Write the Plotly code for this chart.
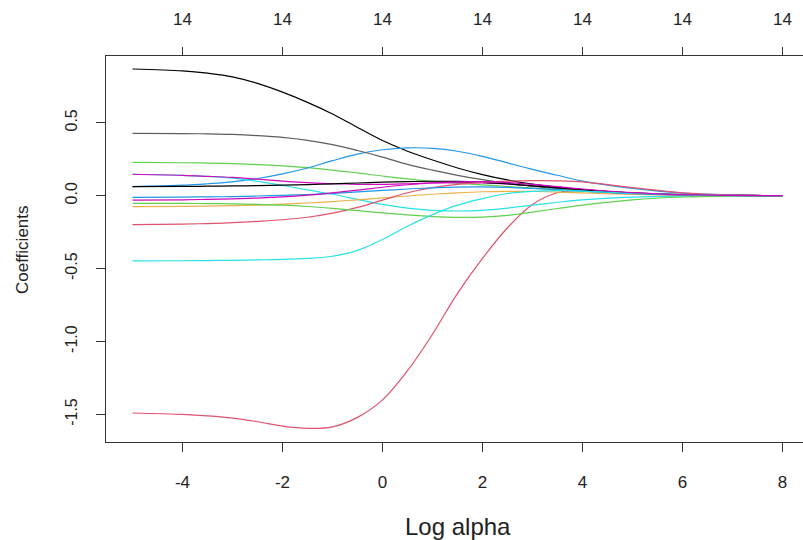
import plotly.graph_objects as go

# Ridge coefficient paths along log(alpha)
log_alpha = [-5, -4, -3.5, -3, -2.5, -2, -1.5, -1, -0.5, 0, 0.5, 1, 1.5, 2, 2.5, 3, 3.5, 4, 5, 6, 7, 8]

coef_black_a = [0.869, 0.856, 0.84, 0.815, 0.77, 0.71, 0.64, 0.56, 0.468, 0.378, 0.305, 0.245, 0.19, 0.145, 0.108, 0.079, 0.057, 0.041, 0.018, 0.007, 0.002, 0.0]
coef_red_a = [-1.49, -1.50, -1.51, -1.525, -1.55, -1.58, -1.595, -1.585, -1.52, -1.40, -1.2, -0.95, -0.67, -0.43, -0.22, -0.06, 0.02, 0.035, 0.018, 0.006, 0.002, 0.0]
coef_green_a = [0.228, 0.226, 0.224, 0.22, 0.213, 0.205, 0.192, 0.176, 0.156, 0.135, 0.115, 0.098, 0.085, 0.074, 0.063, 0.052, 0.041, 0.031, 0.014, 0.005, 0.001, 0.0]
coef_blue_a = [0.062, 0.072, 0.082, 0.095, 0.118, 0.15, 0.19, 0.24, 0.285, 0.315, 0.328, 0.325, 0.305, 0.27, 0.225, 0.18, 0.14, 0.10, 0.05, 0.018, 0.005, 0.0]
coef_cyan_a = [0.147, 0.14, 0.132, 0.12, 0.098, 0.07, 0.04, 0.01, -0.025, -0.06, -0.085, -0.1, -0.105, -0.1, -0.085, -0.065, -0.045, -0.028, -0.01, -0.003, -0.001, 0.0]
coef_magenta_a = [0.147, 0.14, 0.133, 0.125, 0.113, 0.10, 0.09, 0.082, 0.078, 0.078, 0.082, 0.087, 0.09, 0.088, 0.08, 0.068, 0.054, 0.04, 0.018, 0.006, 0.002, 0.0]
coef_yellow = [-0.075, -0.073, -0.071, -0.068, -0.064, -0.058, -0.05, -0.04, -0.028, -0.015, -0.002, 0.01, 0.02, 0.027, 0.03, 0.029, 0.025, 0.02, 0.009, 0.003, 0.001, 0.0]
coef_gray = [0.428, 0.426, 0.424, 0.42, 0.412, 0.4, 0.38, 0.35, 0.31, 0.265, 0.215, 0.175, 0.14, 0.11, 0.085, 0.065, 0.05, 0.037, 0.017, 0.007, 0.002, 0.0]
coef_black_b = [0.062, 0.064, 0.065, 0.067, 0.069, 0.072, 0.076, 0.081, 0.087, 0.093, 0.097, 0.099, 0.098, 0.092, 0.082, 0.068, 0.054, 0.04, 0.019, 0.007, 0.002, 0.0]
coef_red_b = [-0.198, -0.195, -0.191, -0.185, -0.176, -0.165, -0.148, -0.12, -0.08, -0.03, 0.02, 0.055, 0.078, 0.092, 0.1, 0.103, 0.102, 0.095, 0.055, 0.02, 0.005, 0.0]
coef_green_b = [-0.052, -0.053, -0.054, -0.056, -0.06, -0.065, -0.074, -0.087, -0.102, -0.118, -0.132, -0.143, -0.149, -0.147, -0.135, -0.113, -0.088, -0.064, -0.028, -0.009, -0.002, 0.0]
coef_blue_b = [-0.012, -0.01, -0.008, -0.006, -0.002, 0.002, 0.008, 0.016, 0.026, 0.036, 0.046, 0.054, 0.059, 0.06, 0.057, 0.05, 0.041, 0.031, 0.014, 0.005, 0.001, 0.0]
coef_cyan_b = [-0.447, -0.446, -0.445, -0.443, -0.44, -0.437, -0.43, -0.415, -0.375, -0.3, -0.21, -0.13, -0.065, -0.02, 0.015, 0.03, 0.035, 0.032, 0.017, 0.006, 0.002, 0.0]
coef_magenta_b = [-0.03, -0.028, -0.025, -0.022, -0.016, -0.008, 0.004, 0.02, 0.038, 0.058, 0.075, 0.088, 0.095, 0.096, 0.09, 0.078, 0.062, 0.046, 0.021, 0.007, 0.002, 0.0]

paths = [
    (coef_black_a, "#000000"),
    (coef_red_a, "#DF536B"),
    (coef_green_a, "#61D04F"),
    (coef_blue_a, "#2297E6"),
    (coef_cyan_a, "#28E2E5"),
    (coef_magenta_a, "#CD0BBC"),
    (coef_yellow, "#EBB04A"),
    (coef_gray, "#5E5E5E"),
    (coef_black_b, "#000000"),
    (coef_red_b, "#DF536B"),
    (coef_green_b, "#61D04F"),
    (coef_blue_b, "#2297E6"),
    (coef_cyan_b, "#28E2E5"),
    (coef_magenta_b, "#CD0BBC"),
]

# number of nonzero coefficients shown along the top axis
top_ticks = [-4, -2, 0, 2, 4, 6, 8]
top_labels = ["14"] * len(top_ticks)

x_ticks = [-4, -2, 0, 2, 4, 6, 8]
y_ticks = [-1.5, -1.0, -0.5, 0.0, 0.5]

FONT = "Liberation Sans, Arial, sans-serif"
INK = "#222222"
AXIS = "#333333"

fig = go.Figure()
for vals, col in paths:
    fig.add_trace(go.Scatter(
        x=log_alpha, y=vals, mode="lines",
        line=dict(color=col, width=1.2, shape="spline", smoothing=1.0),
        showlegend=False, hoverinfo="skip",
    ))

# invisible trace so the top axis is drawn
fig.add_trace(go.Scatter(x=[top_ticks[0]], y=[0], xaxis="x2", mode="markers",
                         marker=dict(opacity=0), showlegend=False, hoverinfo="skip"))

x_range = [-5.53, 8.41]
fig.update_layout(
    width=803, height=540,
    margin=dict(l=106, r=0, t=56, b=98),
    paper_bgcolor="white", plot_bgcolor="white",
    font=dict(family=FONT, size=16, color=INK),
    xaxis=dict(
        range=x_range, tickvals=x_ticks, ticktext=[str(v) for v in x_ticks],
        showgrid=False, zeroline=False, showline=True, linecolor=AXIS, linewidth=1.2,
        ticks="outside", ticklen=9, tickcolor=AXIS, tickwidth=1.2,
        ticklabelstandoff=15, tickfont=dict(size=17, color=INK),
    ),
    xaxis2=dict(
        range=x_range, overlaying="x", side="top", anchor="y",
        tickvals=top_ticks, ticktext=top_labels,
        showgrid=False, zeroline=False, showline=True, linecolor=AXIS, linewidth=1.2,
        ticks="outside", ticklen=8, tickcolor=AXIS, tickwidth=1.2,
        ticklabelstandoff=15, tickfont=dict(size=17, color=INK),
    ),
    yaxis=dict(
        range=[-1.689, 0.958], tickvals=y_ticks,
        ticktext=["-1.5", "-1.0", "-0.5", "0.0", "0.5"],
        showgrid=False, zeroline=False, showline=True, linecolor=AXIS, linewidth=1.2,
        ticks="outside", ticklen=9, tickcolor=AXIS, tickwidth=1.2,
        tickangle=-90, ticklabelstandoff=13, tickfont=dict(size=16, color=INK),
    ),
)

# axis titles placed in page pixel coordinates
pl, pr, pt, pb = 106, 803, 56, 442
titles = [("Log alpha", 458, 526, 24, 0), ("Coefficients", 22, 250, 17, -90)]
for text, px, py, size, angle in titles:
    fig.add_annotation(
        text=text, xref="paper", yref="paper",
        x=(px - pl) / (pr - pl), y=(pb - py) / (pb - pt),
        xanchor="center", yanchor="middle", textangle=angle,
        showarrow=False, font=dict(size=size, color=INK),
    )

fig.write_html("out.html")
